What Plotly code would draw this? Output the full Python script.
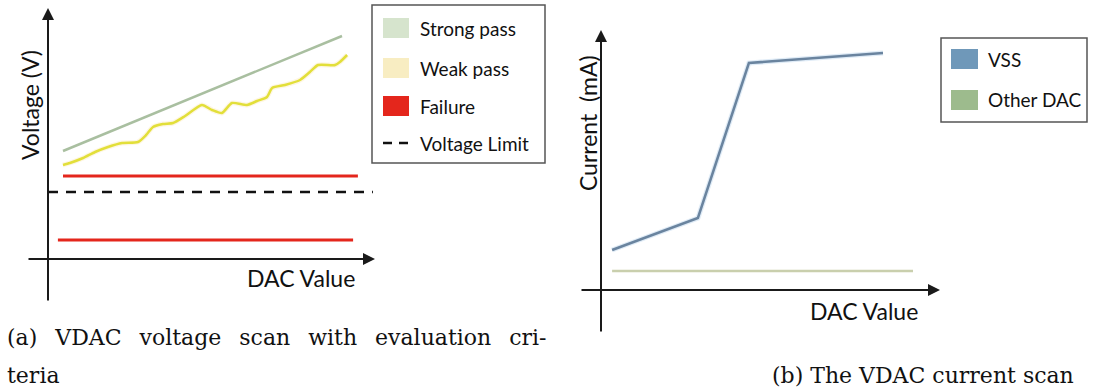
import plotly.graph_objects as go

W, H = 1094, 391

# ---- panel (a): VDAC voltage scan ----
dac_strong = [5.0, 98.0]
v_strong = [2.16, 4.46]

dac_weak = [5.0, 7.3, 11.7, 15.7, 20.0, 24.7, 30.0, 32.7, 35.0, 38.3, 41.7, 45.7,
            51.3, 54.7, 58.0, 61.3, 66.3, 69.7, 73.0, 74.7, 79.0, 84.0, 87.3, 90.0,
            95.7, 97.3, 99.7]
v_weak = [1.88, 1.92, 2.02, 2.14, 2.24, 2.32, 2.34, 2.48, 2.64, 2.70, 2.72, 2.86,
          3.08, 2.98, 2.92, 3.12, 3.08, 3.16, 3.24, 3.42, 3.48, 3.58, 3.74, 3.88,
          3.88, 3.94, 4.08]

dac_fail_hi = [5.0, 103.3]
v_fail_hi = [1.66, 1.66]
dac_fail_lo = [3.3, 101.7]
v_fail_lo = [0.38, 0.38]

dac_limit = [0.0, 108.3]
v_limit = [1.34, 1.34]

legend_a = ["Strong pass", "Weak pass", "Failure", "Voltage Limit"]

# ---- panel (b): VDAC current scan ----
dac_vss = [3.7, 32.3, 49.3, 94.0]
i_vss = [0.80, 1.44, 4.54, 4.74]

dac_other = [3.7, 104.0]
i_other = [0.38, 0.38]

legend_b = ["VSS", "Other DAC"]

captions = ["(a) VDAC voltage scan with evaluation cri-", "teria",
            "(b) The VDAC current scan"]

# colours
C_STRONG = "#a9bfa0"
C_STRONG_KEY = "#d6e4cd"
C_WEAK = "#e2df3a"
C_WEAK_KEY = "#f8edc2"
C_FAIL = "#e4261c"
C_LIMIT = "#111111"
C_VSS = "#6a849f"
C_VSS_KEY = "#6f98b9"
C_OTHER = "#c9cfad"
C_OTHER_KEY = "#9dbb8d"
AX = "#1a1a1a"
TXT = "#111111"

SANS = "Lato"
SERIF = "DejaVu Serif"

fig = go.Figure()

# panel (a) traces
fig.add_trace(go.Scatter(x=dac_strong, y=v_strong, mode="lines",
                         line=dict(color=C_STRONG, width=2.5),
                         name=legend_a[0], xaxis="x", yaxis="y"))
fig.add_trace(go.Scatter(x=dac_weak, y=v_weak, mode="lines",
                         line=dict(color="rgba(250,220,140,0.25)", width=5, shape="spline",
                                   smoothing=0.6),
                         hoverinfo="skip", xaxis="x", yaxis="y"))
fig.add_trace(go.Scatter(x=dac_weak, y=v_weak, mode="lines",
                         line=dict(color=C_WEAK, width=2.5, shape="spline", smoothing=0.6),
                         name=legend_a[1], xaxis="x", yaxis="y"))
fig.add_trace(go.Scatter(x=dac_fail_hi, y=v_fail_hi, mode="lines",
                         line=dict(color=C_FAIL, width=3),
                         name=legend_a[2], xaxis="x", yaxis="y"))
fig.add_trace(go.Scatter(x=dac_fail_lo, y=v_fail_lo, mode="lines",
                         line=dict(color=C_FAIL, width=3),
                         name=legend_a[2], xaxis="x", yaxis="y"))
fig.add_trace(go.Scatter(x=dac_limit, y=v_limit, mode="lines",
                         line=dict(color=C_LIMIT, width=2.5, dash="10px,8px"),
                         name=legend_a[3], xaxis="x", yaxis="y"))

# panel (b) traces
fig.add_trace(go.Scatter(x=dac_vss, y=i_vss, mode="lines",
                         line=dict(color="rgba(150,190,225,0.3)", width=5),
                         hoverinfo="skip", xaxis="x2", yaxis="y2"))
fig.add_trace(go.Scatter(x=dac_vss, y=i_vss, mode="lines",
                         line=dict(color=C_VSS, width=2.5),
                         name=legend_b[0], xaxis="x2", yaxis="y2"))
fig.add_trace(go.Scatter(x=dac_other, y=i_other, mode="lines",
                         line=dict(color=C_OTHER, width=2.5),
                         name=legend_b[1], xaxis="x2", yaxis="y2"))


def px(v):
    return v / W


def py(v):
    return 1 - v / H


hidden = dict(showgrid=False, zeroline=False, showticklabels=False,
              showline=False, ticks="", fixedrange=True)

fig.update_layout(
    width=W, height=H,
    margin=dict(l=0, r=0, t=0, b=0),
    paper_bgcolor="white", plot_bgcolor="white",
    showlegend=False,
    xaxis=dict(domain=[px(27), px(375)], range=[-7, 109], anchor="y", **hidden),
    yaxis=dict(domain=[py(302), py(8)], range=[-0.86, 5.02], anchor="x", **hidden),
    xaxis2=dict(domain=[px(580), px(940)], range=[-7, 113], anchor="y2", **hidden),
    yaxis2=dict(domain=[py(333), py(30)], range=[-0.86, 5.2], anchor="x2", **hidden),
)

ann = []
shapes = []


# arrow-headed axes through the origin of each panel
def axis_arrows(xr, yr, xa, ya):
    common = dict(text="", showarrow=True, arrowhead=2, arrowsize=1.2,
                  arrowwidth=2, arrowcolor=AX, standoff=0, startstandoff=0,
                  xref=xa, yref=ya, axref=xa, ayref=ya)
    ann.append(dict(x=xr[1], y=0, ax=xr[0], ay=0, **common))
    ann.append(dict(x=0, y=yr[1], ax=0, ay=yr[0], **common))


axis_arrows([-7, 109], [-0.86, 5.02], "x", "y")
axis_arrows([-7, 113], [-0.86, 5.2], "x2", "y2")

# axis titles
title_font = dict(family=SANS, size=23, color=TXT)
ann.append(dict(text="DAC Value", x=84.3, y=-0.37, xref="x", yref="y",
                showarrow=False, font=title_font))
ann.append(dict(text="Voltage (V)", x=-6, y=3.08, xref="x", yref="y", textangle=-90,
                showarrow=False, font=title_font))
ann.append(dict(text="DAC Value", x=87.7, y=-0.41, xref="x2", yref="y2",
                showarrow=False, font=title_font))
ann.append(dict(text="Current\u00a0 (mA)", x=-4.3, y=3.34, xref="x2", yref="y2",
                textangle=-90, showarrow=False, font=title_font))

legend_font = dict(family=SANS, size=19, color=TXT)

# legend box (a)
shapes.append(dict(type="rect", xref="paper", yref="paper",
                   x0=px(372), x1=px(545), y0=py(163), y1=py(5),
                   line=dict(color="#555555", width=1.5), fillcolor="white",
                   layer="below"))
keys_a = [C_STRONG_KEY, C_WEAK_KEY, C_FAIL, None]
rows_a = [28, 68, 106, 143]
for name, col, yc in zip(legend_a, keys_a, rows_a):
    if col is None:
        for xa0 in (383, 399):
            shapes.append(dict(type="line", xref="paper", yref="paper",
                               x0=px(xa0), x1=px(xa0 + 9), y0=py(yc), y1=py(yc),
                               line=dict(color=C_LIMIT, width=2.5)))
    else:
        shapes.append(dict(type="rect", xref="paper", yref="paper",
                           x0=px(383), x1=px(409), y0=py(yc + 10), y1=py(yc - 10),
                           line=dict(width=0), fillcolor=col))
    ann.append(dict(text=name, x=px(418), y=py(yc), xref="paper", yref="paper",
                    xanchor="left", yanchor="middle", showarrow=False,
                    font=legend_font))

# legend box (b)
shapes.append(dict(type="rect", xref="paper", yref="paper",
                   x0=px(941), x1=px(1087), y0=py(122), y1=py(38),
                   line=dict(color="#555555", width=1.5), fillcolor="white",
                   layer="below"))
keys_b = [C_VSS_KEY, C_OTHER_KEY]
rows_b = [59, 100]
for name, col, yc in zip(legend_b, keys_b, rows_b):
    shapes.append(dict(type="rect", xref="paper", yref="paper",
                       x0=px(951), x1=px(978), y0=py(yc + 10), y1=py(yc - 10),
                       line=dict(width=0), fillcolor=col))
    ann.append(dict(text=name, x=px(986), y=py(yc), xref="paper", yref="paper",
                    xanchor="left", yanchor="middle", showarrow=False,
                    font=legend_font))

# captions; the first line is justified, so its word gaps are widened
cap_font = dict(family=SERIF, size=22, color=TXT)
ann.append(dict(text=captions[0].replace(" ", " \u2002"), x=px(5), y=py(337),
                xref="paper", yref="paper", xanchor="left", yanchor="middle",
                showarrow=False, font=cap_font))
ann.append(dict(text=captions[1], x=px(5), y=py(375), xref="paper", yref="paper",
                xanchor="left", yanchor="middle", showarrow=False, font=cap_font))
ann.append(dict(text=captions[2], x=px(1076), y=py(375), xref="paper", yref="paper",
                xanchor="right", yanchor="middle", showarrow=False, font=cap_font))

fig.update_layout(annotations=ann, shapes=shapes)

fig.write_html("out.html")
